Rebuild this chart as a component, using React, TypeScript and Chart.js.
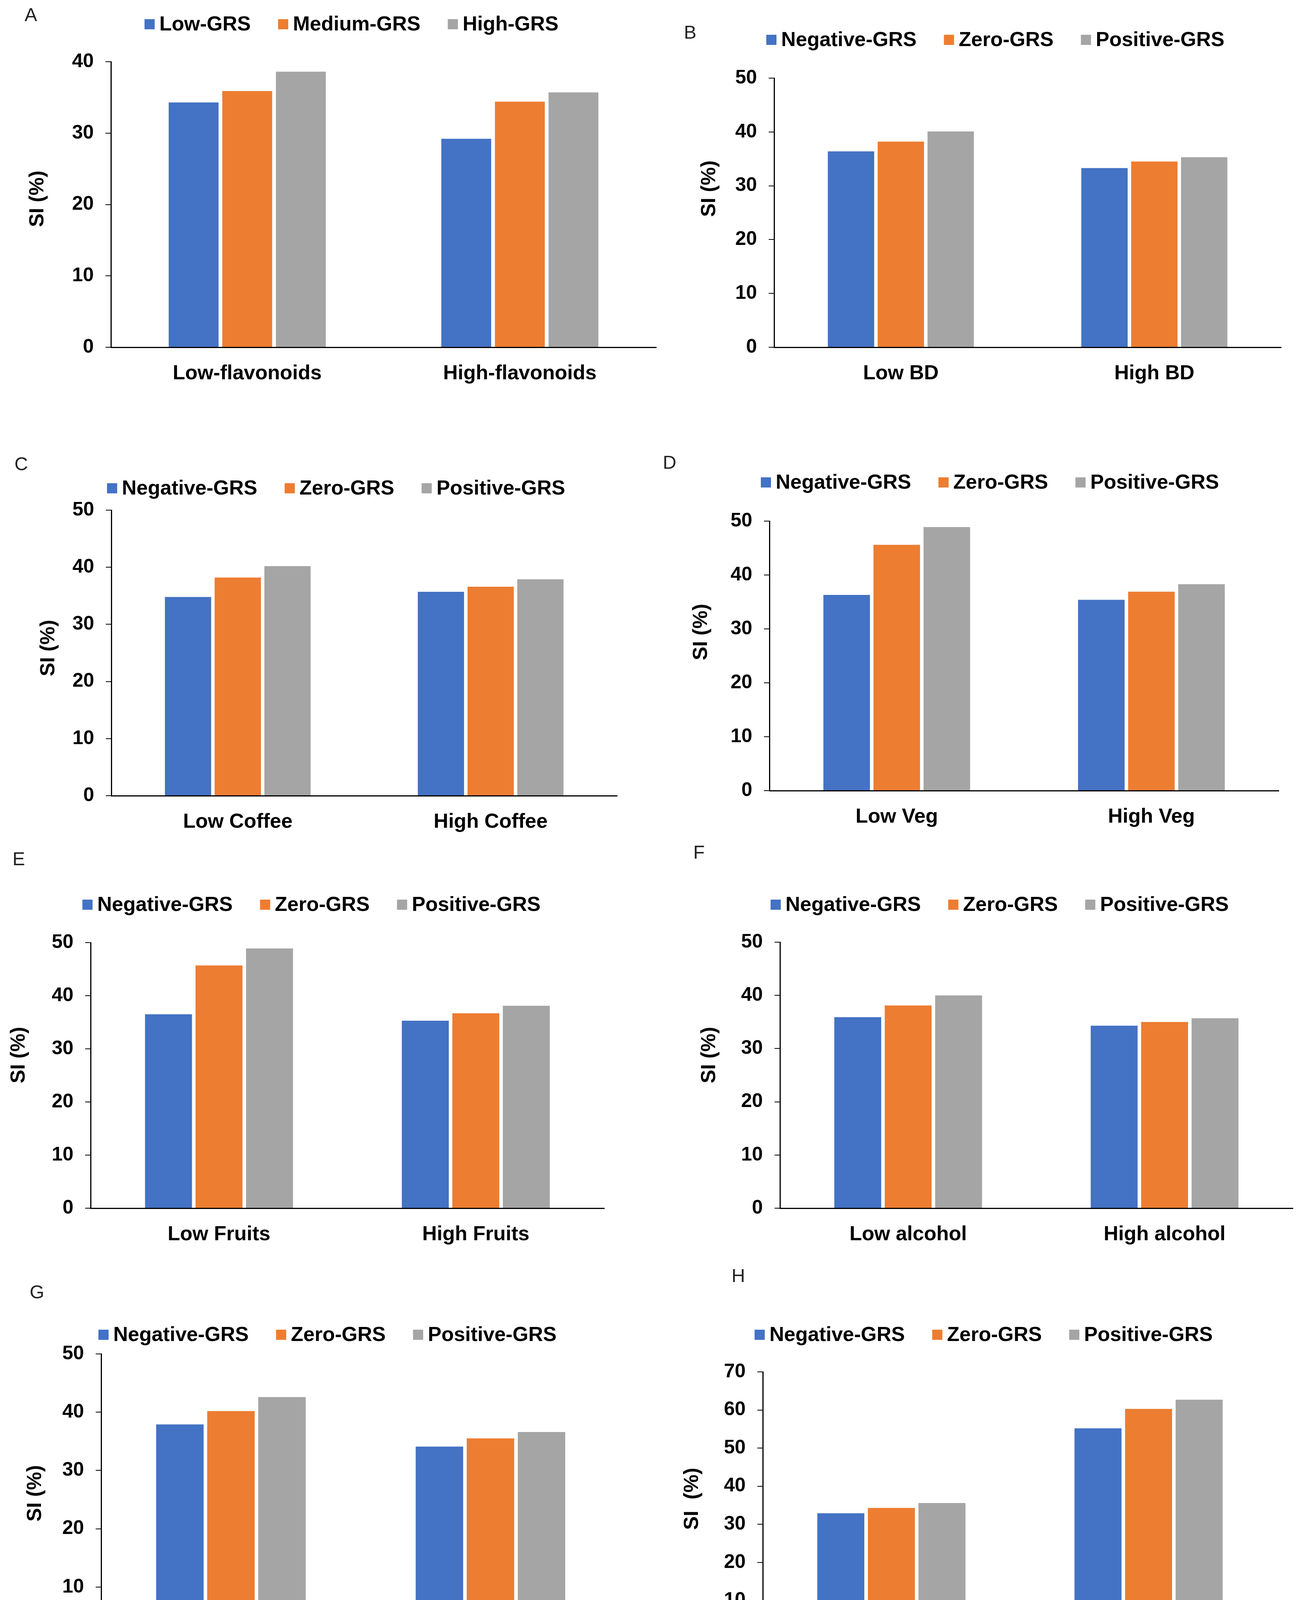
import React, { useEffect, useRef } from 'react';
import { Chart, registerables } from 'chart.js';

Chart.register(...registerables);

// ---------- DATA ----------
const seriesNamesA = ['Low-GRS', 'Medium-GRS', 'High-GRS'];
const seriesNamesGRS = ['Negative-GRS', 'Zero-GRS', 'Positive-GRS'];

const catsA = ['Low-flavonoids', 'High-flavonoids'];
const lowA = [34.3, 29.2];
const medA = [35.9, 34.4];
const highA = [38.6, 35.7];

const catsB = ['Low BD', 'High BD'];
const negB = [36.4, 33.3];
const zeroB = [38.2, 34.5];
const posB = [40.1, 35.3];

const catsC = ['Low Coffee', 'High Coffee'];
const negC = [34.8, 35.7];
const zeroC = [38.2, 36.6];
const posC = [40.2, 37.9];

const catsD = ['Low Veg', 'High Veg'];
const negD = [36.3, 35.4];
const zeroD = [45.6, 36.9];
const posD = [48.9, 38.3];

const catsE = ['Low Fruits', 'High Fruits'];
const negE = [36.5, 35.3];
const zeroE = [45.7, 36.7];
const posE = [48.9, 38.1];

const catsF = ['Low alcohol', 'High alcohol'];
const negF = [35.9, 34.3];
const zeroF = [38.1, 35.0];
const posF = [40.0, 35.7];

const catsG = ['Low exercise', 'High exercise'];
const negG = [37.9, 34.1];
const zeroG = [40.2, 35.5];
const posG = [42.6, 36.6];

const catsH = ['Non-smoking', 'Smoking'];
const negH = [32.9, 55.2];
const zeroH = [34.3, 60.3];
const posH = [35.6, 62.7];

const yMaxes = [40, 50, 50, 50, 50, 50, 50, 70];
const yStep = 10;
const yTitles = ['SI (%)', 'SI (%)', 'SI (%)', 'SI (%)', 'SI (%)', 'SI (%)', 'SI (%)', 'SI  (%)'];
const letters = ['A', 'B', 'C', 'D', 'E', 'F', 'G', 'H'];

// ---------- STYLE / LAYOUT ----------
const COLORS = ['#4472C4', '#ED7D31', '#A5A5A5'];
const FONT = '"Liberation Sans", Arial, Helvetica, sans-serif';

type Layout = {
  o: [number, number, number, number]; // canvas left, top, width, height (page px)
  area: [number, number, number, number]; // L, T, R, B (page px)
  letter: [number, number];
  legend: [number, number];
  title: [number, number];
};

const LAYOUTS: Layout[] = [
  { o: [0, 0, 1700, 1080], area: [284, 158, 1680, 889], letter: [63, 41], legend: [370, 62], title: [97, 509] },
  { o: [1700, 0, 1631, 1080], area: [1982, 200, 3280, 889], letter: [1751, 86], legend: [1962, 102], title: [1817, 483] },
  { o: [0, 1080, 1700, 1060], area: [285, 1306, 1580, 2037], letter: [37, 1191], legend: [274, 1250], title: [125, 1659] },
  { o: [1700, 1080, 1631, 1060], area: [1970, 1334, 3274, 2024], letter: [1697, 1187], legend: [1948, 1235], title: [1796, 1618] },
  { o: [0, 2140, 1700, 1060], area: [232, 2413, 1547, 3093], letter: [32, 2202], legend: [211, 2316], title: [49, 2701] },
  { o: [1700, 2140, 1631, 1060], area: [1997, 2412, 3310, 3093], letter: [1775, 2185], legend: [1973, 2316], title: [1817, 2701] },
  { o: [0, 3200, 1700, 1117], area: [259, 3466, 1588, 4212], letter: [76, 3311], legend: [252, 3417], title: [91, 3823] },
  { o: [1700, 3200, 1631, 1117], area: [1953, 3512, 3270, 4195], letter: [1873, 3269], legend: [1932, 3417], title: [1773, 3837] },
];

const PANELS = [
  { cats: catsA, names: seriesNamesA, series: [lowA, medA, highA] },
  { cats: catsB, names: seriesNamesGRS, series: [negB, zeroB, posB] },
  { cats: catsC, names: seriesNamesGRS, series: [negC, zeroC, posC] },
  { cats: catsD, names: seriesNamesGRS, series: [negD, zeroD, posD] },
  { cats: catsE, names: seriesNamesGRS, series: [negE, zeroE, posE] },
  { cats: catsF, names: seriesNamesGRS, series: [negF, zeroF, posF] },
  { cats: catsG, names: seriesNamesGRS, series: [negG, zeroG, posG] },
  { cats: catsH, names: seriesNamesGRS, series: [negH, zeroH, posH] },
];

const decorPlugin = {
  id: 'panelDecor',
  afterDraw(chart: any, _args: any, opts: any) {
    const ctx = chart.ctx as CanvasRenderingContext2D;
    ctx.save();
    // panel letter
    ctx.font = `normal 48px ${FONT}`;
    ctx.fillStyle = '#222';
    ctx.textAlign = 'left';
    ctx.textBaseline = 'middle';
    ctx.fillText(opts.letter, opts.letterX, opts.letterY);
    // legend
    ctx.font = `bold 52px ${FONT}`;
    let x = opts.legendX;
    const y = opts.legendY;
    const box = 26;
    chart.data.datasets.forEach((ds: any) => {
      ctx.fillStyle = ds.backgroundColor;
      ctx.fillRect(x, y - box / 2, box, box);
      x += box + 12;
      ctx.fillStyle = '#000';
      ctx.fillText(ds.label, x, y + 2);
      x += ctx.measureText(ds.label).width + 70;
    });
    // y title
    ctx.translate(opts.titleX, opts.titleY);
    ctx.rotate(-Math.PI / 2);
    ctx.textAlign = 'center';
    ctx.fillStyle = '#000';
    ctx.fillText(opts.title, 0, 0);
    ctx.restore();
  },
};

function Panel({ idx }: { idx: number }) {
  const ref = useRef<HTMLCanvasElement | null>(null);
  const lay = LAYOUTS[idx];
  const p = PANELS[idx];
  const [ox, oy, w, h] = lay.o;
  const [L, T, R, B] = lay.area;

  useEffect(() => {
    if (!ref.current) return;
    const yw = L - ox;
    const xh = oy + h - B;
    const chart = new Chart(ref.current, {
      type: 'bar',
      data: {
        labels: p.cats,
        datasets: p.series.map((d, i) => ({
          label: p.names[i],
          data: d,
          backgroundColor: COLORS[i],
          borderWidth: 0,
          categoryPercentage: 0.59,
          barPercentage: 0.93,
        })),
      },
      options: {
        responsive: false,
        animation: false,
        devicePixelRatio: 1,
        layout: { padding: { left: 0, top: T - oy, right: ox + w - R, bottom: 0 } },
        plugins: {
          legend: { display: false },
          tooltip: { enabled: false },
          title: { display: false },
          panelDecor: {
            letter: letters[idx],
            letterX: lay.letter[0] - ox,
            letterY: lay.letter[1] - oy,
            legendX: lay.legend[0] - ox,
            legendY: lay.legend[1] - oy,
            titleX: lay.title[0] - ox,
            titleY: lay.title[1] - oy,
            title: yTitles[idx],
          },
        } as any,
        scales: {
          x: {
            grid: { display: false, drawTicks: false },
            border: { display: true, color: '#000', width: 3 },
            ticks: {
              color: '#000',
              font: { family: FONT, size: 52, weight: 'bold' },
              padding: 36,
              maxRotation: 0,
              autoSkip: false,
            },
            afterFit: (s: any) => {
              s.height = xh;
            },
          },
          y: {
            min: 0,
            max: yMaxes[idx],
            ticks: {
              stepSize: yStep,
              color: '#000',
              font: { family: FONT, size: 50, weight: 'bold' },
              padding: 30,
            },
            grid: {
              display: true,
              drawOnChartArea: false,
              drawTicks: true,
              tickLength: 14,
              color: '#000',
              lineWidth: 2,
            },
            border: { display: true, color: '#000', width: 3 },
            afterFit: (s: any) => {
              s.width = yw;
            },
          },
        },
      },
      plugins: [decorPlugin],
    } as any);
    return () => chart.destroy();
  }, []);

  return (
    <canvas
      ref={ref}
      width={w}
      height={h}
      style={{ position: 'absolute', left: ox, top: oy, width: w, height: h }}
    />
  );
}

export default function App() {
  return (
    <div
      style={{
        position: 'absolute',
        left: 0,
        top: 0,
        width: 3331,
        height: 4317,
        background: '#fff',
        overflow: 'hidden',
      }}
    >
      {PANELS.map((_, i) => (
        <Panel key={i} idx={i} />
      ))}
    </div>
  );
}
